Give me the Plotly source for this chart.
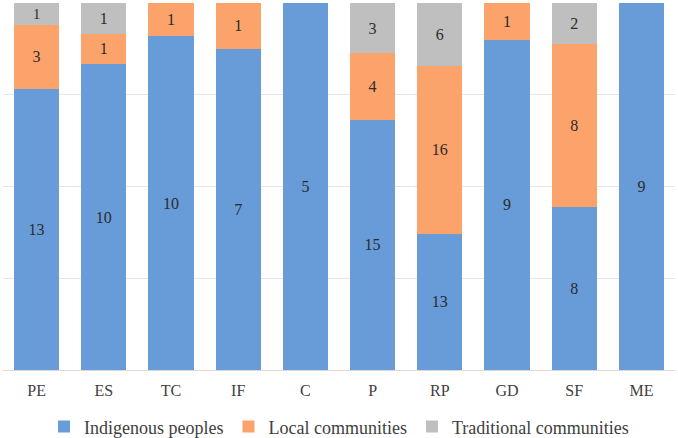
import plotly.graph_objects as go

categories = ["PE", "ES", "TC", "IF", "C", "P", "RP", "GD", "SF", "ME"]
indigenous = [13, 10, 10, 7, 5, 15, 13, 9, 8, 9]
local = [3, 1, 1, 1, 0, 4, 16, 1, 8, 0]
traditional = [1, 1, 0, 0, 0, 3, 6, 0, 2, 0]

series = [
    ("Indigenous peoples", indigenous, "#689CD8"),
    ("Local communities", local, "#FBA36A"),
    ("Traditional communities", traditional, "#BFBFBF"),
]

serif = "Times New Roman, Liberation Serif, DejaVu Serif, serif"

fig = go.Figure()
for name, vals, col in series:
    fig.add_trace(go.Bar(
        x=categories, y=vals, name=name,
        marker=dict(color=col, line=dict(width=0)),
        text=[str(v) if v else "" for v in vals],
        textposition="inside", insidetextanchor="middle",
        textfont=dict(color="#2B2B2B", size=16, family=serif),
        textangle=0,
    ))

fig.update_layout(
    barmode="stack",
    barnorm="percent",
    bargap=0.33,
    width=678, height=438,
    margin=dict(l=3, r=3, t=3, b=68, autoexpand=False),
    plot_bgcolor="white",
    paper_bgcolor="white",
    font=dict(family=serif, color="#404040", size=16),
    showlegend=True,
    legend=dict(orientation="h", x=0.5, xanchor="center", y=-0.155, yanchor="middle",
                font=dict(size=18, color="#404040", family=serif), traceorder="normal"),
    xaxis=dict(showline=True, linecolor="#D9D9D9", linewidth=1, ticks="",
               ticklabelstandoff=6,
               tickfont=dict(size=16, color="#404040", family=serif)),
    yaxis=dict(range=[0, 100], dtick=25, showticklabels=False,
               showgrid=True, gridcolor="#E6E6E6", zeroline=False),
)

# drop the default page margin so the figure sits at the window's corner
fig.write_html("out.html", config={"displayModeBar": False},
               post_script="document.body.style.margin='0';")
